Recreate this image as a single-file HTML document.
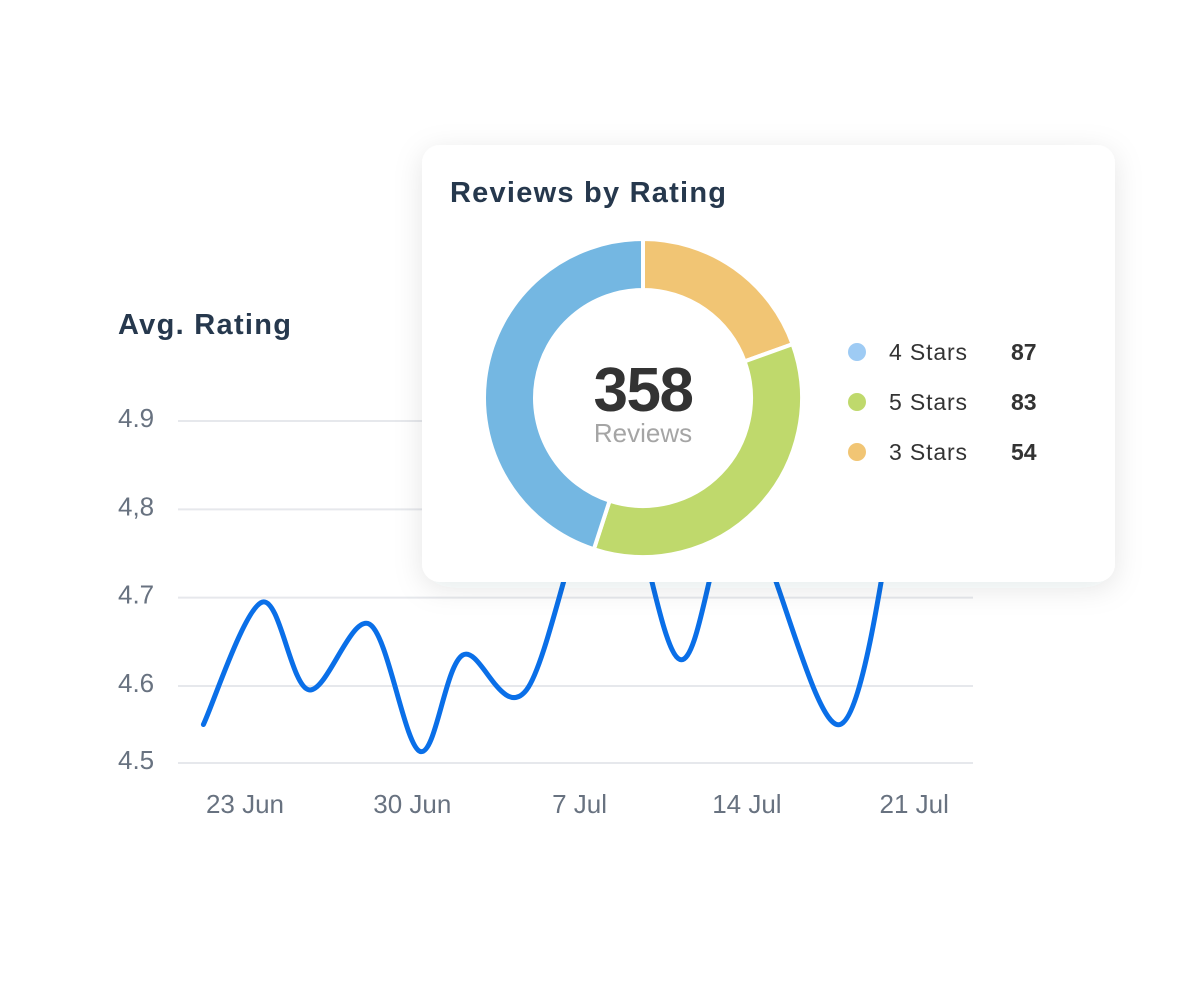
<!DOCTYPE html>
<html><head><meta charset="utf-8"><style>
html,body{margin:0;padding:0;background:#fff;width:1200px;height:1000px;overflow:hidden;font-family:"Liberation Sans",Arial,sans-serif}
svg{position:absolute;left:0;top:0}
</style></head><body>
<svg id="chart" width="1200" height="1000">
  <defs>
    <filter id="sh" x="-20%" y="-20%" width="140%" height="140%">
      <feDropShadow dx="0" dy="6" stdDeviation="14" flood-color="#1e2a3a" flood-opacity="0.10"/>
    </filter>
  </defs>
  <g id="line-panel">
    <text x="118" y="334" font-size="29" font-weight="bold" textLength="173" fill="#26384d">Avg. Rating</text>
    <g id="grid"></g>
    <g id="yticks"></g>
    <g id="xticks"></g>
    <path id="rating-line" fill="none" stroke="#0a6fe8" stroke-width="5" stroke-linecap="round"/>
  </g>
  <g>
    <rect x="422" y="145" width="693" height="437" rx="18" fill="#fff" filter="url(#sh)"/>
    <text x="450" y="202" font-size="29" font-weight="bold" textLength="276" fill="#26384d">Reviews by Rating</text>
    <g id="donut"></g>
    <text x="643" y="411" font-size="62" font-weight="bold" fill="#333" text-anchor="middle" letter-spacing="-1.5">358</text>
    <text x="643" y="442" font-size="26" fill="#a5a5a5" text-anchor="middle">Reviews</text>
    <g id="legend"></g>
  </g>
</svg>
<script>
// Line chart data
const lineDays = [-1.74, 0.72, 2.67, 5.21, 7.33, 9.11, 11.78, 15.25, 18.2, 20.76, 24.9, 27.5];
const lineValues = [4.55, 4.695, 4.595, 4.67, 4.515, 4.635, 4.595, 4.85, 4.63, 4.80, 4.55, 4.86];
const yTicks = [4.9, 4.8, 4.7, 4.6, 4.5];
const yTickLabels = ["4.9", "4,8", "4.7", "4.6", "4.5"];
const xTickDays = [0, 7, 14, 21, 28];
const xTickLabels = ["23 Jun", "30 Jun", "7 Jul", "14 Jul", "21 Jul"];
// Donut data
const sliceLabels = ["3 Stars", "5 Stars", "4 Stars"];
const sliceShares = [19.5, 35.5, 45];
const sliceColors = ["#f1c574", "#bfd96c", "#74b7e2"];
const legendLabels = ["4 Stars", "5 Stars", "3 Stars"];
const legendValues = [87, 83, 54];
const legendColors = ["#9ecbf4", "#bfd96c", "#f1c574"];

const NS = "http://www.w3.org/2000/svg";
function mk(tag, attrs, parent){const e=document.createElementNS(NS,tag);for(const k in attrs)e.setAttribute(k,attrs[k]);parent.appendChild(e);return e;}
function yScale(v){
  if (v <= 4.6) return 763 + (v-4.5)/(0.1)*(686-763);
  return 686 + (v-4.6)/(0.3)*(421-686);
}
function xScale(d){ return 245 + d*23.9; }

const grid=document.getElementById('grid'), yt=document.getElementById('yticks'), xt=document.getElementById('xticks');
yTicks.forEach((t,i)=>{
  const l=mk('line',{x1:178,x2:973,y1:yScale(t),y2:yScale(t),stroke:'#e6e8ec','stroke-width':2},grid);
  
  
  const tx=mk('text',{x:118,y:yScale(t)+6,'font-size':26,fill:'#687280'},yt);
  tx.textContent=yTickLabels[i];
  
  
});
xTickDays.forEach((d,i)=>{
  const tx=mk('text',{x:xScale(d),y:813,'font-size':26,fill:'#687280','text-anchor':'middle'},xt);
  tx.textContent=xTickLabels[i];
  
  
});
const pts=lineDays.map((d,i)=>[xScale(d),yScale(lineValues[i])]);
let dstr='M'+pts[0][0]+','+pts[0][1];
for(let i=0;i<pts.length-1;i++){
  const p0=pts[Math.max(0,i-1)],p1=pts[i],p2=pts[i+1],p3=pts[Math.min(pts.length-1,i+2)];
  const t=0.5/3;
  const c1=[p1[0]+(p2[0]-p0[0])*t,p1[1]+(p2[1]-p0[1])*t];
  const c2=[p2[0]-(p3[0]-p1[0])*t,p2[1]-(p3[1]-p1[1])*t];
  dstr+=` C${c1[0]},${c1[1]} ${c2[0]},${c2[1]} ${p2[0]},${p2[1]}`;
}
document.getElementById('rating-line').setAttribute('d',dstr);

// donut
const dg=document.getElementById('donut');
const cx=643,cy=398,R=159,r=108;
const total=sliceShares.reduce((a,b)=>a+b,0);
let a0=0;
function pt(rad,ang){return [cx+rad*Math.sin(ang),cy-rad*Math.cos(ang)];}
sliceShares.forEach((s,i)=>{
  const a1=a0+s/total*2*Math.PI;
  const large=(a1-a0)>Math.PI?1:0;
  const o0=pt(R,a0),o1=pt(R,a1),i1=pt(r,a1),i0=pt(r,a0);
  const p=mk('path',{d:`M${o0} A${R},${R} 0 ${large} 1 ${o1} L${i1} A${r},${r} 0 ${large} 0 ${i0} Z`,fill:sliceColors[i],stroke:'#fff','stroke-width':4},dg);
  
  
  a0=a1;
});
const lg=document.getElementById('legend');
legendLabels.forEach((lab,i)=>{
  const y=352+i*50;
  const c=mk('circle',{cx:857,cy:y,r:9,fill:legendColors[i]},lg);
  
  
  const t=mk('text',{x:889,y:y+8,'font-size':23,fill:'#333',textLength:78},lg);
  t.textContent=lab;
  
  
  const v=mk('text',{x:1011,y:y+8,'font-size':23,'font-weight':'bold',fill:'#333'},lg);
  v.textContent=legendValues[i];
  
  
});
</script>
</body></html>
